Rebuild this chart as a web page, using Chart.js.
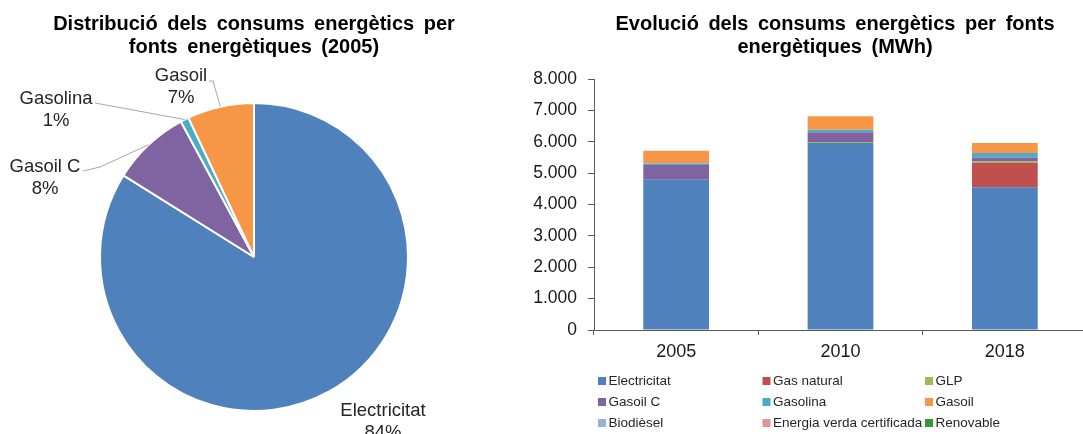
<!DOCTYPE html>
<html><head><meta charset="utf-8">
<script src="https://cdn.jsdelivr.net/npm/chart.js@4"></script>
<style>
html,body{margin:0;padding:0;background:#fff;overflow:hidden;width:1083px;height:434px;position:relative;}
#pie{position:absolute;left:0;top:0;}
#bar{position:absolute;left:530px;top:0;}
</style></head><body>
<canvas id="pie" width="530" height="434"></canvas>
<canvas id="bar" width="560" height="434"></canvas>
<script>
// ---------- DATA ----------
const years = ['2005', '2010', '2018'];
const seriesNames = ['Electricitat', 'Gas natural', 'GLP', 'Gasoil C', 'Gasolina', 'Gasoil', 'Biodièsel', 'Energia verda certificada', 'Renovable'];
const electricitat = [4790, 5960, 4550];
const gasNatural   = [0, 0, 770];
const glp          = [0, 30, 50];
const gasoilC      = [470, 310, 130];
const gasolina     = [50, 85, 140];
const gasoil       = [400, 425, 320];
const biodiesel    = [0, 0, 0];
const energiaVerda = [0, 0, 0];
const renovable    = [0, 0, 0];
const yTickLabels  = ['0', '1.000', '2.000', '3.000', '4.000', '5.000', '6.000', '7.000', '8.000'];

const pieCategories = ['Electricitat', 'Gasoil C', 'Gasolina', 'Gasoil'];
const pieValues     = [4790, 470, 50, 400];

const pieTitle = ['Distribució dels consums energètics per', 'fonts energètiques (2005)'];
const barTitle = ['Evolució dels consums energètics per fonts', 'energètiques (MWh)'];

// ---------- STYLE ----------
const FONT = '"Liberation Sans", Arial, Helvetica, sans-serif';
Chart.defaults.font.family = FONT;
const colors = {
  'Electricitat': '#4F81BD', 'Gas natural': '#C0504D', 'GLP': '#9BBB59',
  'Gasoil C': '#8064A2', 'Gasolina': '#4BACC6', 'Gasoil': '#F79646',
  'Biodièsel': '#95B3D7', 'Energia verda certificada': '#D99694', 'Renovable': '#339933'
};

const titlePlugin = {
  id: 'ctitle',
  afterDraw(chart, args, opts) {
    const ctx = chart.ctx; ctx.save();
    ctx.font = 'bold 20px ' + FONT;
    if ('wordSpacing' in ctx) ctx.wordSpacing = '4px';
    ctx.fillStyle = '#000'; ctx.textAlign = 'center'; ctx.textBaseline = 'alphabetic';
    opts.lines.forEach((l, i) => ctx.fillText(l, opts.x, opts.y + i * opts.gap));
    ctx.restore();
  }
};

const pieLabelPlugin = {
  id: 'pieLabels',
  afterDatasetsDraw(chart, args, opts) {
    const meta = chart.getDatasetMeta(0);
    const data = chart.data.datasets[0].data;
    const total = data.reduce((a, b) => a + b, 0);
    const ctx = chart.ctx; ctx.save();
    meta.data.forEach((arc, i) => {
      const p = opts.positions[i];
      const pr = arc.getProps(['x', 'y', 'startAngle', 'endAngle', 'outerRadius'], true);
      const mid = (pr.startAngle + pr.endAngle) / 2;
      if (p.line) {
        ctx.strokeStyle = '#A6A6A6'; ctx.lineWidth = 1;
        ctx.beginPath();
        ctx.moveTo(p.line[0][0], p.line[0][1]);
        for (let k = 1; k < p.line.length; k++) ctx.lineTo(p.line[k][0], p.line[k][1]);
        ctx.lineTo(pr.x + Math.cos(mid) * pr.outerRadius, pr.y + Math.sin(mid) * pr.outerRadius);
        ctx.stroke();
      }
      ctx.font = '18.5px ' + FONT;
      ctx.fillStyle = '#262626'; ctx.textAlign = 'center'; ctx.textBaseline = 'alphabetic';
      ctx.fillText(chart.data.labels[i], p.x, p.y);
      ctx.fillText(Math.round(data[i] / total * 100) + '%', p.x, p.y + 22);
    });
    ctx.restore();
  }
};

const legendPlugin = {
  id: 'clegend',
  afterDraw(chart, args, opts) {
    const ctx = chart.ctx; ctx.save();
    ctx.font = '13.5px ' + FONT; ctx.textBaseline = 'middle'; ctx.textAlign = 'left';
    chart.data.datasets.forEach((ds, i) => {
      const col = i % 3, row = Math.floor(i / 3);
      const x = opts.cols[col], y = opts.rows[row];
      ctx.fillStyle = ds.backgroundColor;
      ctx.fillRect(x, y - 4, 8, 8);
      ctx.fillStyle = '#262626';
      ctx.fillText(ds.label, x + 10.5, y + 0.5);
    });
    ctx.restore();
  }
};

// ---------- PIE ----------
new Chart(document.getElementById('pie'), {
  type: 'pie',
  data: {
    labels: pieCategories,
    datasets: [{
      data: pieValues,
      backgroundColor: pieCategories.map(c => colors[c]),
      borderColor: '#fff', borderWidth: 2
    }]
  },
  options: {
    responsive: false, animation: false,
    layout: { padding: { top: 102, bottom: 22, left: 0, right: 22 } },
    plugins: {
      legend: { display: false }, tooltip: { enabled: false },
      ctitle: { lines: pieTitle, x: 254, y: 30, gap: 23 },
      pieLabels: {
        positions: [
          { x: 383, y: 416 },
          { x: 45, y: 172, line: [[83, 171], [100, 167]] },
          { x: 56, y: 104, line: [[95, 103]] },
          { x: 181, y: 81, line: [[209, 81], [213, 81]] }
        ]
      }
    }
  },
  plugins: [titlePlugin, pieLabelPlugin]
});

// ---------- BAR ----------
const seriesData = [electricitat, gasNatural, glp, gasoilC, gasolina, gasoil, biodiesel, energiaVerda, renovable];
new Chart(document.getElementById('bar'), {
  type: 'bar',
  data: {
    labels: years,
    datasets: seriesNames.map((n, i) => ({
      label: n, data: seriesData[i], backgroundColor: colors[n],
      borderWidth: 0, barPercentage: 0.4, categoryPercentage: 1
    }))
  },
  options: {
    responsive: false, animation: false,
    layout: { padding: { top: 79, right: 3, left: 0, bottom: 0 } },
    plugins: {
      legend: { display: false }, tooltip: { enabled: false },
      ctitle: { lines: barTitle, x: 305, y: 30, gap: 23 },
      clegend: { cols: [68, 232.5, 395], rows: [381, 402, 423] }
    },
    scales: {
      x: {
        stacked: true,
        grid: { display: true, drawOnChartArea: false, drawTicks: true, tickLength: 5, color: '#595959' },
        border: { display: true, color: '#595959', width: 1 },
        ticks: { font: { size: 18 }, color: '#1a1a1a', padding: 6 },
        afterFit(s) { s.height = 104; }
      },
      y: {
        stacked: true, min: 0, max: 8000,
        grid: { display: true, drawOnChartArea: false, drawTicks: true, tickLength: 6, color: '#595959' },
        border: { display: true, color: '#595959', width: 1 },
        ticks: { stepSize: 1000, font: { size: 17.5 }, color: '#1a1a1a', padding: 11,
                 callback: (v, i) => yTickLabels[i] },
        afterFit(s) { s.width = 64; }
      }
    }
  },
  plugins: [titlePlugin, legendPlugin]
});
</script>
</body></html>
